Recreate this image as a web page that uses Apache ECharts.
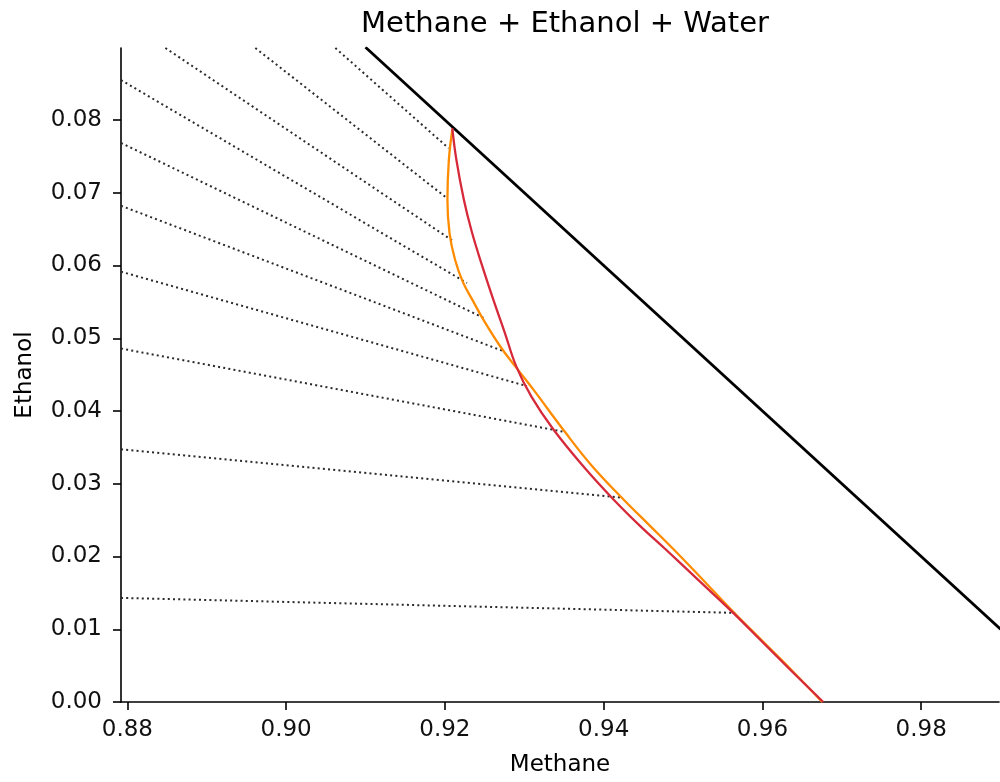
<!DOCTYPE html>
<html>
<head>
<meta charset="utf-8">
<script src="https://cdn.jsdelivr.net/npm/echarts@6/dist/echarts.min.js"></script>
<style>
  html, body { margin: 0; padding: 0; background: #ffffff; }
  #chart { width: 1000px; height: 782px; }
</style>
</head>
<body>
<div id="chart"></div>
<script>
// ---- data ----
const titleText = 'Methane + Ethanol + Water';
const xName = 'Methane';
const yName = 'Ethanol';
const xTicks = [0.88, 0.90, 0.92, 0.94, 0.96, 0.98];
const yTicks = [0.00, 0.01, 0.02, 0.03, 0.04, 0.05, 0.06, 0.07, 0.08];

// boundary (no water): Methane + Ethanol = 1
const boundaryLine = [[0.910, 0.090], [0.990, 0.010]];

// orange curve
const orangeCurve = [
  [0.92093, 0.07863], [0.92050, 0.07452], [0.92032, 0.06904], [0.92058, 0.06450],
  [0.92128, 0.06080], [0.92230, 0.05765], [0.92345, 0.05531], [0.92484, 0.05257],
  [0.92698, 0.04887], [0.92887, 0.04613], [0.93113, 0.04297], [0.93516, 0.03707],
  [0.93856, 0.03241], [0.94247, 0.02788], [0.94587, 0.02418], [0.94877, 0.02103],
  [0.95240, 0.01691], [0.95632, 0.01239], [0.95972, 0.00868], [0.96350, 0.00457],
  [0.96753, 0.00000]
];

// red curve
const redCurve = [
  [0.92093, 0.07890], [0.92145, 0.07452], [0.92239, 0.06904], [0.92339, 0.06464],
  [0.92465, 0.06012], [0.92610, 0.05531], [0.92754, 0.05079], [0.92899, 0.04613],
  [0.93088, 0.04201], [0.93365, 0.03749], [0.93743, 0.03241], [0.94121, 0.02788],
  [0.94461, 0.02418], [0.94776, 0.02103], [0.95204, 0.01664], [0.95632, 0.01225],
  [0.95972, 0.00855], [0.96350, 0.00444], [0.96766, 0.00000]
];

// tie lines: [xStart, yStart, xEnd, yEnd] (start at the plot edge)
const tieLines = [
  [0.90620, 0.08990, 0.92047, 0.07612],
  [0.89612, 0.08990, 0.92026, 0.06926],
  [0.88479, 0.08990, 0.92111, 0.06331],
  [0.87920, 0.08549, 0.92278, 0.05760],
  [0.87920, 0.07685, 0.92487, 0.05280],
  [0.87920, 0.06821, 0.92739, 0.04822],
  [0.87920, 0.05915, 0.93034, 0.04342],
  [0.87920, 0.04859, 0.93516, 0.03711],
  [0.87920, 0.03474, 0.94209, 0.02812],
  [0.87920, 0.01431, 0.95657, 0.01225]
];

// ---- chart ----
const FONT = 'DejaVu Sans';
const chart = echarts.init(document.getElementById('chart'), null, { renderer: 'canvas' });

const series = [];
tieLines.forEach(function (t) {
  series.push({
    type: 'line',
    data: [[t[0], t[1]], [t[2], t[3]]],
    showSymbol: false,
    clip: true,
    silent: true,
    lineStyle: { color: '#2a2a2a', width: 2, type: [2, 3.2] },
    z: 1
  });
});
series.push({
  type: 'line', data: boundaryLine, showSymbol: false, clip: true, silent: true,
  lineStyle: { color: '#000000', width: 2.8 }, z: 2
});
series.push({
  type: 'line', data: orangeCurve, showSymbol: false, smooth: 0.4,
  clip: true, silent: true,
  lineStyle: { color: '#ff8c00', width: 2.3 }, z: 3
});
series.push({
  type: 'line', data: redCurve, showSymbol: false, smooth: 0.4,
  clip: true, silent: true,
  lineStyle: { color: '#d62a3a', width: 2.3 }, z: 4
});

chart.setOption({
  animation: false,
  backgroundColor: '#ffffff',
  title: {
    text: titleText,
    left: 560, top: 5, textAlign: 'center',
    textStyle: { fontFamily: FONT, fontSize: 29, fontWeight: 'normal', color: '#000' }
  },
  grid: { left: 121, right: 1, top: 48, bottom: 79, containLabel: false },
  xAxis: {
    type: 'value', min: 0.8792, max: 0.9898,
    name: xName, nameLocation: 'middle', nameGap: 52,
    nameTextStyle: { fontFamily: FONT, fontSize: 23, color: '#000' },
    axisLine: { show: true, onZero: false, lineStyle: { color: '#000', width: 1.6 } },
    axisTick: { show: true, length: 8, customValues: xTicks, lineStyle: { color: '#000', width: 1.6 } },
    axisLabel: {
      customValues: xTicks, margin: 17,
      fontFamily: FONT, fontSize: 23, color: '#111',
      formatter: function (v) { return v.toFixed(2); }
    },
    splitLine: { show: false }
  },
  yAxis: {
    type: 'value', min: 0, max: 0.0899,
    name: yName, nameLocation: 'middle', nameGap: 84, nameRotate: 90,
    nameTextStyle: { fontFamily: FONT, fontSize: 23, color: '#000' },
    axisLine: { show: true, onZero: false, lineStyle: { color: '#000', width: 1.6 } },
    axisTick: { show: true, length: 8, customValues: yTicks, lineStyle: { color: '#000', width: 1.6 } },
    axisLabel: {
      customValues: yTicks, margin: 19,
      fontFamily: FONT, fontSize: 23, color: '#111',
      formatter: function (v) { return v.toFixed(2); }
    },
    splitLine: { show: false }
  },
  series: series
});
</script>
</body>
</html>
